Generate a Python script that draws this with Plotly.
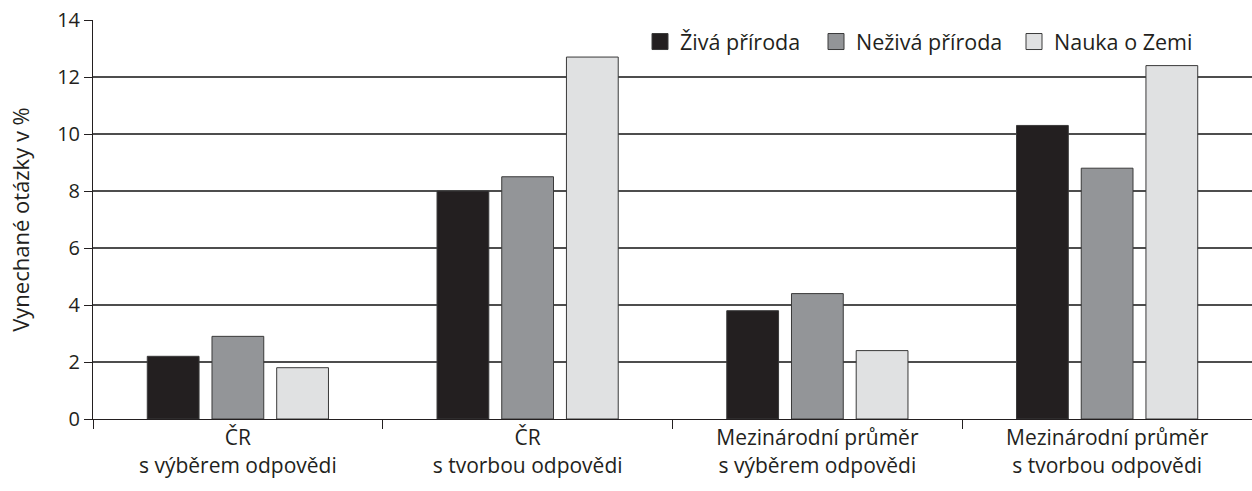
import plotly.graph_objects as go

categories = ["ČR<br>s výběrem odpovědi", "ČR<br>s tvorbou odpovědi",
              "Mezinárodní průměr<br>s výběrem odpovědi", "Mezinárodní průměr<br>s tvorbou odpovědi"]
ziva = [2.2, 8.0, 3.8, 10.3]
neziva = [2.9, 8.5, 4.4, 8.8]
zeme = [1.8, 12.7, 2.4, 12.4]
series_names = ["Živá příroda", "Neživá příroda", "Nauka o Zemi"]
colors = ["#231f20", "#939598", "#e0e1e2"]
legend_widths = [131, 153, 140]
y_ticks = [0, 2, 4, 6, 8, 10, 12, 14]

FONT = "Open Sans"
TXT = "#231f20"
fig = go.Figure()
for name, vals, col, lw in zip(series_names, [ziva, neziva, zeme], colors, legend_widths):
    fig.add_trace(go.Bar(x=categories, y=vals, name=name,
                         marker=dict(color=col, line=dict(color="#3a3a3a", width=1)),
                         showlegend=False))
    fig.add_trace(go.Scatter(x=[None], y=[None], mode="markers", name=name, legendwidth=lw,
                             marker=dict(symbol="square", size=21, color=col,
                                         line=dict(color="#3a3a3a", width=1))))

fig.update_layout(
    width=1252, height=491,
    margin=dict(l=93, r=0, t=20, b=72),
    paper_bgcolor="white", plot_bgcolor="white",
    font=dict(family=FONT, size=21, color=TXT),
    barmode="group", bargap=0.33, bargroupgap=0.2,
    showlegend=True,
    legend=dict(orientation="h", x=(640 - 93) / 1159, xanchor="left", y=0.946, yanchor="middle",
                bgcolor="rgba(255,255,255,0)", font=dict(size=21.5), itemwidth=30,
                traceorder="normal"),
    xaxis=dict(type="category", tickson="boundaries", ticks="outside", ticklen=9, tickcolor=TXT,
               showline=True, linecolor=TXT, linewidth=1, showgrid=False,
               tickfont=dict(size=21)),
    yaxis=dict(range=[0, 14], tickvals=y_ticks, ticks="outside", ticklen=8, tickcolor=TXT,
               showline=True, linecolor=TXT, linewidth=1,
               showgrid=True, gridcolor="#4d4d4d", gridwidth=1.5, zeroline=False,
               title=dict(text="Vynechané otázky v %", font=dict(size=22), standoff=21),
               tickfont=dict(size=20)),
)
fig.write_html("out.html", post_script="document.body.style.margin='0px';",
               config={"displayModeBar": False})
